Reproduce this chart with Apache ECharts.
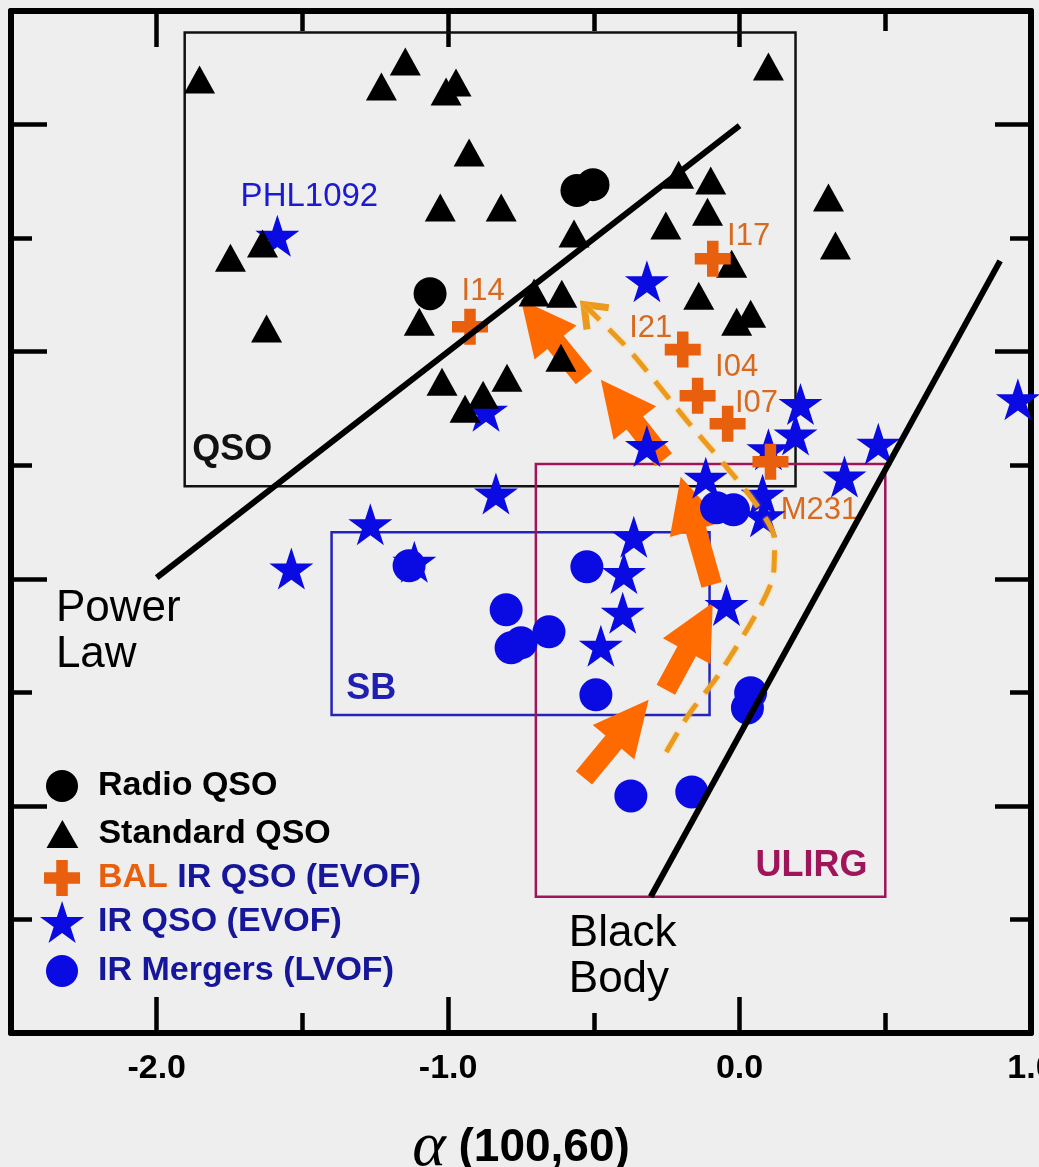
<!DOCTYPE html>
<html>
<head>
<meta charset="utf-8">
<title>alpha(100,60) diagram</title>
<script src="https://cdn.jsdelivr.net/npm/echarts@6/dist/echarts.min.js"></script>
<style>
  html, body { margin: 0; padding: 0; background: #efeeef; }
  #chart { width: 1039px; height: 1167px; }
</style>
</head>
<body>
<div id="chart"></div>
<script>
// ---- ticks ----
const X_MAJOR = [-2, -1, 0, 1];
const X_MINOR = [-1.5, -0.5, 0.5];
const Y_MAJOR = [2, 4, 6, 8];
const Y_MINOR = [1, 3, 5, 7];

// ---- sources, [alpha(100,60), y] ----
const RADIO_QSO = [[-0.558, 7.419], [-0.503, 7.471], [-1.062, 6.511]];
const STANDARD_QSO = [
  [-1.853, 8.396], [-1.147, 8.555], [-1.229, 8.335], [-1.007, 8.291], [-0.973, 8.370],
  [0.099, 8.511], [-0.928, 7.753], [-1.027, 7.269], [-0.818, 7.269], [-0.568, 7.040],
  [-0.209, 7.559], [-0.099, 7.507], [-0.110, 7.233], [-0.253, 7.110], [0.305, 7.357],
  [0.329, 6.934], [-1.747, 6.828], [-1.637, 6.952], [-1.623, 6.203], [-1.099, 6.264],
  [-0.705, 6.520], [-0.610, 6.511], [-0.140, 6.493], [-0.027, 6.775], [-0.010, 6.264],
  [0.038, 6.335], [-1.021, 5.736], [-0.798, 5.771], [-0.880, 5.621], [-0.942, 5.498],
  [-0.613, 5.947],
];
const BAL_QSO = [[-0.925, 6.220], [-0.092, 6.819], [-0.195, 6.018], [-0.144, 5.612], [-0.041, 5.366], [0.106, 5.031]];
const BAL_NAMES = ['I14', 'I17', 'I21', 'I04', 'I07', 'M231'];
const BAL_LABEL_AT = [[-0.880, 6.529], [0.031, 7.013], [-0.305, 6.203], [-0.010, 5.859], [0.058, 5.542], [0.274, 4.599]];
const IR_QSO = [
  [-1.586, 7.02], [-0.318, 6.62], [-0.870, 5.48], [-0.318, 5.17], [-0.836, 4.75],
  [-1.267, 4.48], [-1.538, 4.09], [-1.116, 4.15], [-0.363, 4.37], [-0.397, 4.05],
  [-0.401, 3.70], [-0.476, 3.41], [-0.045, 3.77], [-0.116, 4.89], [0.079, 4.74],
  [0.082, 4.55], [0.099, 5.14], [0.209, 5.54], [0.192, 5.27], [0.476, 5.19],
  [0.360, 4.90], [0.955, 5.58],
];
const IR_MERGERS = [
  [-1.134, 4.115], [-0.801, 3.727], [-0.784, 3.392], [-0.750, 3.436], [-0.654, 3.533],
  [-0.524, 4.106], [-0.493, 2.978], [-0.079, 4.626], [-0.021, 4.608], [0.038, 2.996],
  [0.027, 2.863], [-0.373, 2.088], [-0.164, 2.123],
];
const NAMED = ['PHL1092'];
const NAMED_AT = [[-1.476, 7.366]];

// ---- regions [x0, x1, y0, y1] and their labels ----
const BOX_NAMES = ['QSO', 'SB', 'ULIRG'];
const BOX_EXTENTS = [[-1.904, 0.192, 4.815, 8.81], [-1.40, -0.103, 2.80, 4.41], [-0.699, 0.50, 1.20, 5.01]];
const BOX_LABEL_AT = [[-1.741, 5.137], [-1.264, 3.031], [0.247, 1.471]];

// ---- model curves ----
const POWER_LAW = [[-2.0, 4.01], [0.0, 7.99]];
const BLACK_BODY = [[-0.305, 1.20], [0.894, 6.80]];
const CURVE_NAMES = ['Power\nLaw', 'Black\nBody'];
const CURVE_LABEL_AT = [[-2.346, 3.533], [-0.586, 0.670]];

// ---- evolution track (dashed) and arrows [tailX, tailY, tipX, tipY] ----
const TRACK = [
  [-0.534, 6.414], [-0.380, 6.018], [-0.175, 5.374], [0.038, 4.722], [0.120, 4.344],
  [0.116, 4.035], [0.065, 3.727], [-0.072, 3.154], [-0.175, 2.802], [-0.271, 2.388],
];
const ARROWS = [
  [-0.534, 2.247, -0.312, 2.934],
  [-0.253, 3.022, -0.092, 3.789],
  [-0.096, 3.947, -0.202, 4.899],
  [-0.260, 5.048, -0.476, 5.753],
  [-0.534, 5.771, -0.750, 6.458],
];

// ---- styling ----
const FONT = '"Liberation Sans", Arial, Helvetica, sans-serif';
const BLUE = '#0a0ae2', NAVY = '#16169a', ORANGE = '#e8600e', ORANGE_TXT = '#d76a1f';
const ARROW_COL = '#ff6a00', AMBER = '#ec9a1c', MAROON = '#a0145a';
const BOX_COLORS = ['#111111', '#2424b8', MAROON];
const BOX_TEXT = ['#111111', '#1f1fb0', MAROON];
const STAR = 'path://M50,0 L61.2,34.5 L97.6,34.5 L68.2,55.9 L79.4,90.5 L50,69.1 L20.6,90.5 L31.8,55.9 L2.4,34.5 L38.8,34.5 Z';
const PLUS = 'path://M34,0H66V34H100V66H66V100H34V66H0V34H34Z';
const TRI = 'path://M50,0 L100,88 L0,88 Z';
const TICK = { color: '#000', width: 4.5 };

function xAxisOf(position, values, len, main) {
  return {
    type: 'value', min: -2.5, max: 1.0, position, splitLine: { show: false },
    axisLine: { show: main, onZero: false, lineStyle: { color: '#000', width: 6 } },
    axisTick: { inside: true, length: len, customValues: values, lineStyle: TICK },
    axisLabel: { show: false },
  };
}
function yAxisOf(position, values, len, main) {
  return {
    type: 'value', min: 0, max: 9, position, splitLine: { show: false },
    axisLine: { show: main, onZero: false, lineStyle: { color: '#000', width: 6 } },
    axisTick: { inside: true, length: len, customValues: values, lineStyle: TICK },
    axisLabel: { show: false },
  };
}

const bottomAxis = xAxisOf('bottom', X_MAJOR, 36, true);
bottomAxis.axisLabel = {
  show: true, customValues: X_MAJOR, margin: 19, formatter: (v) => v.toFixed(1),
  color: '#000', fontSize: 34, fontWeight: 'bold', fontFamily: FONT,
};
bottomAxis.name = '{a|α} (100,60)';
bottomAxis.nameLocation = 'middle';
bottomAxis.nameGap = 83;
bottomAxis.nameTextStyle = {
  color: '#000', fontSize: 46, fontWeight: 'bold', fontFamily: FONT,
  rich: { a: { fontFamily: '"Liberation Serif", "Times New Roman", serif', fontStyle: 'italic', fontWeight: 'normal', fontSize: 64, color: '#000' } },
};

function textSeries(points, texts, style, colors) {
  return {
    type: 'custom', silent: true, data: points,
    renderItem: (p, api) => {
      const c = api.coord([api.value(0), api.value(1)]);
      const s = Object.assign({ text: texts[p.dataIndex] }, style);
      if (colors) s.fill = colors[p.dataIndex];
      return { type: 'text', x: c[0], y: c[1], style: s };
    },
  };
}

// one legend per row so each icon keeps its own size; the layout box starts at the
// icon's drawn left edge, so left = icon centre - icon width / 2
function legendRow(name, iconW, h, top, color, fmt) {
  return {
    data: [name], left: 62 - iconW / 2, top, itemWidth: 62, itemHeight: h, padding: 0, selectedMode: false,
    formatter: fmt ? () => fmt : '{name}',
    textStyle: {
      color, fontSize: 34, fontWeight: 'bold', fontFamily: FONT,
      rich: { o: { color: ORANGE, fontSize: 34, fontWeight: 'bold', fontFamily: FONT } },
    },
  };
}

const chart = echarts.init(document.getElementById('chart'), null, { renderer: 'canvas' });
chart.setOption({
  animation: false,
  backgroundColor: '#efeeef',
  grid: { left: 11, right: 8, top: 11, bottom: 134, outerBoundsMode: 'none', containLabel: false },
  xAxis: [bottomAxis, xAxisOf('bottom', X_MINOR, 20, false), xAxisOf('top', X_MAJOR, 36, true), xAxisOf('top', X_MINOR, 20, false)],
  yAxis: [yAxisOf('left', Y_MAJOR, 36, true), yAxisOf('left', Y_MINOR, 21, false), yAxisOf('right', Y_MAJOR, 36, true), yAxisOf('right', Y_MINOR, 21, false)],
  legend: [
    legendRow('Radio QSO', 32, 32, 769, '#000'),
    legendRow('Standard QSO', 31, 28, 817, '#000'),
    legendRow('BAL IR QSO (EVOF)', 36, 36, 860, NAVY, '{o|BAL} IR QSO (EVOF)'),
    legendRow('IR QSO (EVOF)', 44, 42, 901, NAVY),
    legendRow('IR Mergers (LVOF)', 32, 32, 954, NAVY),
  ],
  series: [
    { name: 'IR QSO (EVOF)', type: 'scatter', data: IR_QSO, symbol: STAR, symbolSize: [44, 42], itemStyle: { color: BLUE, opacity: 1 } },
    { name: 'IR Mergers (LVOF)', type: 'scatter', data: IR_MERGERS, symbol: 'circle', symbolSize: 33, itemStyle: { color: BLUE, opacity: 1 } },
    { name: 'Radio QSO', type: 'scatter', data: RADIO_QSO, symbol: 'circle', symbolSize: 33, itemStyle: { color: '#000', opacity: 1 } },
    { name: 'Standard QSO', type: 'scatter', data: STANDARD_QSO, symbol: TRI, symbolSize: [31, 28], itemStyle: { color: '#000', opacity: 1 } },
    // region boxes
    {
      type: 'custom', silent: true, data: BOX_EXTENTS,
      renderItem: (p, api) => {
        const a = api.coord([api.value(0), api.value(3)]);
        const b = api.coord([api.value(1), api.value(2)]);
        return { type: 'rect', shape: { x: a[0], y: a[1], width: b[0] - a[0], height: b[1] - a[1] },
          style: { fill: 'none', stroke: BOX_COLORS[p.dataIndex], lineWidth: 2.5 } };
      },
    },
    { type: 'line', data: POWER_LAW, symbol: 'none', silent: true, lineStyle: { color: '#000', width: 6 } },
    { type: 'line', data: BLACK_BODY, symbol: 'none', silent: true, lineStyle: { color: '#000', width: 6 } },
    // evolution track
    { type: 'line', data: TRACK, symbol: 'none', smooth: 0.25, silent: true,
      lineStyle: { color: AMBER, width: 5, type: [22, 13], shadowColor: 'rgba(255,200,90,0.7)', shadowBlur: 3 } },
    {
      type: 'custom', silent: true, data: [TRACK[0].concat(TRACK[1])],
      renderItem: (p, api) => {
        const t = api.coord([api.value(0), api.value(1)]);
        const n = api.coord([api.value(2), api.value(3)]);
        const L = Math.hypot(n[0] - t[0], n[1] - t[1]);
        const ux = (n[0] - t[0]) / L, uy = (n[1] - t[1]) / L;
        const arm = (ang) => [t[0] + 25 * (ux * Math.cos(ang) - uy * Math.sin(ang)), t[1] + 25 * (ux * Math.sin(ang) + uy * Math.cos(ang))];
        return { type: 'polyline', shape: { points: [arm(0.66), t, arm(-0.66)] },
          style: { fill: 'none', stroke: AMBER, lineWidth: 7 } };
      },
    },
    { name: 'BAL IR QSO (EVOF)', type: 'scatter', data: BAL_QSO, symbol: PLUS, symbolSize: 36, itemStyle: { color: ORANGE, opacity: 1 } },
    textSeries(BOX_LABEL_AT, BOX_NAMES, { fontSize: 36, fontWeight: 'bold', fontFamily: FONT, align: 'center', verticalAlign: 'middle' }, BOX_TEXT),
    textSeries(CURVE_LABEL_AT, CURVE_NAMES, { fontSize: 44, fontFamily: FONT, fill: '#000', align: 'left', verticalAlign: 'middle', lineHeight: 46 }),
    textSeries(BAL_LABEL_AT, BAL_NAMES, { fontSize: 31, fontFamily: FONT, fill: ORANGE_TXT, align: 'center', verticalAlign: 'middle' }),
    textSeries(NAMED_AT, NAMED, { fontSize: 33, fontFamily: FONT, fill: '#1a1ad2', align: 'center', verticalAlign: 'middle' }),
    // big orange arrows
    {
      type: 'custom', silent: true, data: ARROWS,
      renderItem: (p, api) => {
        const t = api.coord([api.value(0), api.value(1)]);
        const h = api.coord([api.value(2), api.value(3)]);
        const L = Math.hypot(h[0] - t[0], h[1] - t[1]);
        const ux = (h[0] - t[0]) / L, uy = (h[1] - t[1]) / L, nx = -uy, ny = ux;
        const bx = h[0] - ux * 55, by = h[1] - uy * 55;
        const at = (x, y, w) => [x + nx * w, y + ny * w];
        return { type: 'polygon', shape: { points: [at(t[0], t[1], 10.5), at(bx, by, 10.5), at(bx, by, 27), h, at(bx, by, -27), at(bx, by, -10.5), at(t[0], t[1], -10.5)] },
          style: { fill: ARROW_COL } };
      },
    },
  ],
});
</script>
</body>
</html>
